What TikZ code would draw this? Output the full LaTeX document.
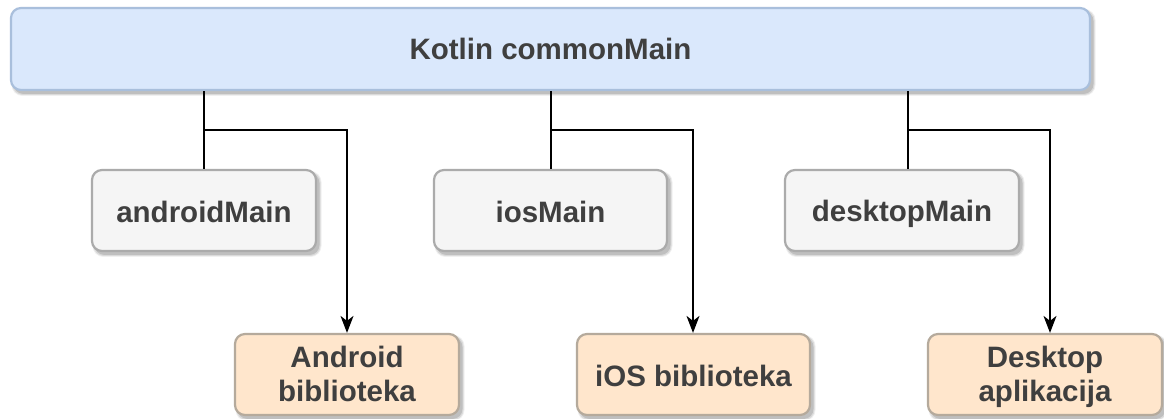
\documentclass[tikz,border=0pt]{standalone}
\usepackage{fontspec}
\setmainfont{Liberation Sans}
\usetikzlibrary{arrows.meta}
\definecolor{txt}{HTML}{3F3F3F}
\newcommand{\oa}{\rule[-5pt]{0pt}{34pt}}
\newcommand{\ob}{\rule[-7pt]{0pt}{34pt}}
\newcommand{\oc}{\rule[-6pt]{0pt}{34pt}}
\tikzset{x=1pt,y=-1pt,
 box/.style={rounded corners=10pt,line width=2.2pt,draw=#1,anchor=center,inner sep=0pt,align=center,font=\bfseries\fontsize{29.5}{34}\selectfont,text=txt},
 link/.style={line width=1.7pt,draw=black},
 arr/.style={link,-{Stealth[length=17pt,width=13pt,inset=5pt]}}}
\newcommand{\bx}[8]{% name x y w h fill draw text
 \fill[black,opacity=.06,rounded corners=11pt] (#2+0.5,#3+1) rectangle ++(#4+5,#5+5);
 \fill[black,opacity=.09,rounded corners=10pt] (#2+1.5,#3+2) rectangle ++(#4+3,#5+3);
 \fill[black,opacity=.12,rounded corners=10pt] (#2+2.5,#3+3) rectangle ++(#4+1,#5+1);
 \node[box=#7,fill=#6,minimum width=#4 pt,minimum height=#5 pt] (#1) at (#2+#4/2,#3+#5/2) {#8};}
\definecolor{bl}{HTML}{DAE8FC}\definecolor{bld}{HTML}{A9BFDC}
\definecolor{gr}{HTML}{F5F5F5}\definecolor{grd}{HTML}{ABABAB}
\definecolor{or}{HTML}{FFE6CC}\definecolor{ord}{HTML}{B5AA9C}
\begin{document}
\begin{tikzpicture}
\useasboundingbox (0,0) rectangle (1164,419);
\fill[white] (0,0) rectangle (1164,419);
\coordinate (c1) at (204,130);\coordinate (c2) at (551,130);\coordinate (c3) at (908,130);
\bx{k}{11}{8}{1079}{82}{bl}{bld}{\oc Kotlin commonMain}
\bx{am}{92}{170}{224}{81}{gr}{grd}{\oa androidMain}
\bx{im}{434}{170}{233}{81}{gr}{grd}{\oa iosMain}
\bx{dm}{785}{170}{234}{81}{gr}{grd}{\oa desktopMain}
\bx{al}{235}{334}{224}{81}{or}{ord}{\ob Android\\\ob biblioteka}
\bx{il}{577}{334}{233}{81}{or}{ord}{\oa iOS biblioteka}
\bx{dl}{928}{334}{234}{81}{or}{ord}{\ob Desktop\\\ob aplikacija}
\draw[link] (c1|-k.south) -- (c1|-am.north);
\draw[link] (c2|-k.south) -- (c2|-im.north);
\draw[link] (c3|-k.south) -- (c3|-dm.north);
\coordinate (t1) at (347,130);\coordinate (t2) at (693,130);\coordinate (t3) at (1050,130);
\draw[arr] (c1) -- (t1) -- (t1|-al.north);
\draw[arr] (c2) -- (t2) -- (t2|-il.north);
\draw[arr] (c3) -- (t3) -- (t3|-dl.north);
\end{tikzpicture}
\end{document}
